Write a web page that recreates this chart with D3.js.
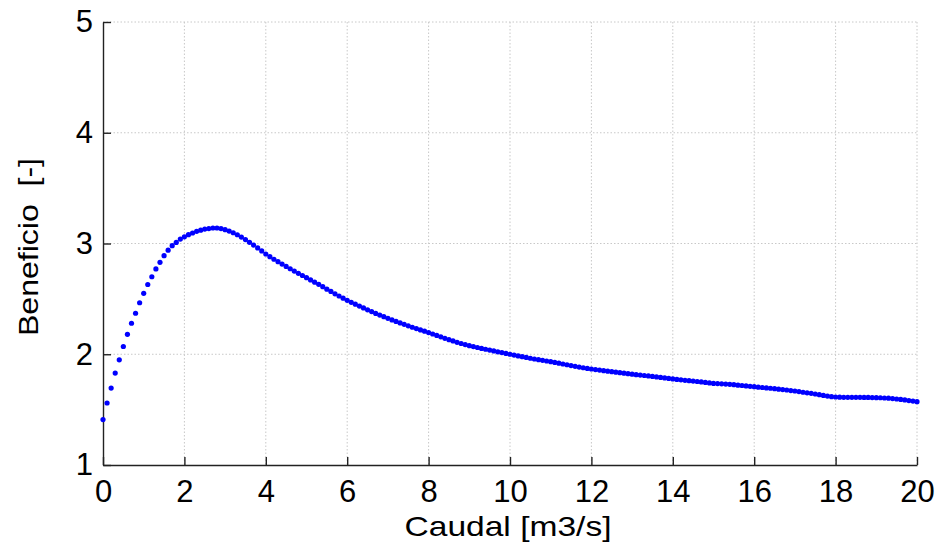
<!DOCTYPE html>
<html>
<head>
<meta charset="utf-8">
<script src="https://cdn.jsdelivr.net/npm/d3@7"></script>
<style>
  body { margin: 0; background: #fff; }
  svg { display: block; font-family: "Liberation Sans", Arial, sans-serif; }
  .grid line { stroke: #c8c8c8; stroke-width: 1; stroke-dasharray: 1.5,2; }
  .axis path, .axis line { stroke: #222; stroke-width: 1.4; }
  .axis text { fill: #000; font-size: 31px; }
</style>
</head>
<body>
<div id="chart"></div>
<script>
// Caudal [m3/s], step 0.1 from 0 to 20
var caudalStart = 0, caudalStep = 0.1;
// Beneficio [-], one value per caudal step
var beneficio = [
    1.41, 1.56, 1.695, 1.83, 1.95, 2.07, 2.18, 2.28, 2.37, 2.465,
    2.55, 2.63, 2.70, 2.77, 2.83, 2.89, 2.94, 2.98, 3.01, 3.04,
    3.06, 3.08, 3.095, 3.11, 3.12, 3.13, 3.135, 3.14, 3.14, 3.135,
    3.125, 3.112, 3.097, 3.079, 3.058, 3.035, 3.011, 2.986, 2.96, 2.933,
    2.905, 2.881, 2.858, 2.836, 2.814, 2.793, 2.772, 2.751, 2.731, 2.711,
    2.691, 2.671, 2.651, 2.631, 2.61, 2.588, 2.567, 2.546, 2.526, 2.506,
    2.487, 2.469, 2.452, 2.435, 2.418, 2.401, 2.385, 2.369, 2.354, 2.339,
    2.324, 2.31, 2.296, 2.283, 2.27, 2.257, 2.244, 2.232, 2.22, 2.208,
    2.196, 2.183, 2.17, 2.157, 2.144, 2.132, 2.12, 2.108, 2.097, 2.087,
    2.077, 2.069, 2.061, 2.053, 2.045, 2.038, 2.03, 2.022, 2.015, 2.007,
    2.0, 1.993, 1.985, 1.978, 1.971, 1.964, 1.957, 1.951, 1.945, 1.939,
    1.933, 1.926, 1.919, 1.912, 1.905, 1.898, 1.891, 1.884, 1.878, 1.872,
    1.867, 1.862, 1.857, 1.852, 1.847, 1.843, 1.838, 1.834, 1.829, 1.825,
    1.82, 1.816, 1.812, 1.808, 1.804, 1.80, 1.795, 1.791, 1.786, 1.782,
    1.777, 1.773, 1.769, 1.765, 1.761, 1.758, 1.754, 1.75, 1.746, 1.741,
    1.737, 1.735, 1.733, 1.731, 1.728, 1.725, 1.721, 1.718, 1.714, 1.71,
    1.707, 1.703, 1.700, 1.696, 1.693, 1.689, 1.685, 1.681, 1.677, 1.672,
    1.668, 1.663, 1.657, 1.652, 1.647, 1.641, 1.635, 1.628, 1.622, 1.617,
    1.614, 1.612, 1.611, 1.611, 1.611, 1.611, 1.611, 1.61, 1.61, 1.609,
    1.608, 1.607, 1.605, 1.603, 1.6, 1.596, 1.592, 1.588, 1.582, 1.577,
    1.572
];
var xTicks = [0, 2, 4, 6, 8, 10, 12, 14, 16, 18, 20];
var yTicks = [1, 2, 3, 4, 5];
var xLabel = "Caudal [m3/s]";
var yLabel = "Beneficio  [-]";

var points = beneficio.map(function (v, i) {
    return { x: +(caudalStart + i * caudalStep).toFixed(1), y: v };
});

// Set the dimensions and margins of the diagram
var W = 939, H = 548;
var margin = { top: 22, right: 22, bottom: 83, left: 103 },
    width = W - margin.left - margin.right,
    height = H - margin.top - margin.bottom;

var svg = d3.select("#chart").append("svg")
    .attr("width", W)
    .attr("height", H);

var g = svg.append("g")
    .attr("transform", "translate(" + margin.left + "," + margin.top + ")");

var x = d3.scaleLinear().domain([0, 20]).range([0, width]);
var y = d3.scaleLinear().domain([1, 5]).range([height, 0]);

// dotted grid
g.append("g").attr("class", "grid")
    .selectAll("line")
    .data(xTicks.slice(1))
    .enter().append("line")
    .attr("x1", function (d) { return x(d); })
    .attr("x2", function (d) { return x(d); })
    .attr("y1", 0)
    .attr("y2", height);

g.append("g").attr("class", "grid")
    .selectAll("line")
    .data(yTicks.slice(1))
    .enter().append("line")
    .attr("x1", 0)
    .attr("x2", width)
    .attr("y1", function (d) { return y(d); })
    .attr("y2", function (d) { return y(d); });

// axes, ticks pointing inward
var xAxis = g.append("g").attr("class", "axis")
    .attr("transform", "translate(0," + height + ")")
    .call(d3.axisBottom(x).tickValues(xTicks).tickFormat(d3.format("d"))
        .tickSizeInner(-8).tickSizeOuter(0).tickPadding(15));
xAxis.selectAll("text").attr("dy", "0.71em");

var yAxis = g.append("g").attr("class", "axis")
    .call(d3.axisLeft(y).tickValues(yTicks).tickFormat(d3.format("d"))
        .tickSizeInner(-8).tickSizeOuter(0).tickPadding(10));

// points
g.append("g")
    .selectAll("circle")
    .data(points)
    .enter().append("circle")
    .attr("cx", function (d) { return x(d.x); })
    .attr("cy", function (d) { return y(d.y); })
    .attr("r", 2.6)
    .attr("fill", "#0000ff");

// axis titles
svg.append("text")
    .attr("x", 508)
    .attr("y", 536)
    .attr("text-anchor", "middle")
    .attr("font-size", 28)
    .attr("textLength", 207)
    .attr("lengthAdjust", "spacingAndGlyphs")
    .text(xLabel);

svg.append("text")
    .attr("transform", "translate(38,247) rotate(-90)")
    .attr("text-anchor", "middle")
    .attr("font-size", 28)
    .attr("textLength", 178)
    .attr("lengthAdjust", "spacingAndGlyphs")
    .attr("xml:space", "preserve")
    .style("white-space", "pre")
    .text(yLabel);
</script>
</body>
</html>
